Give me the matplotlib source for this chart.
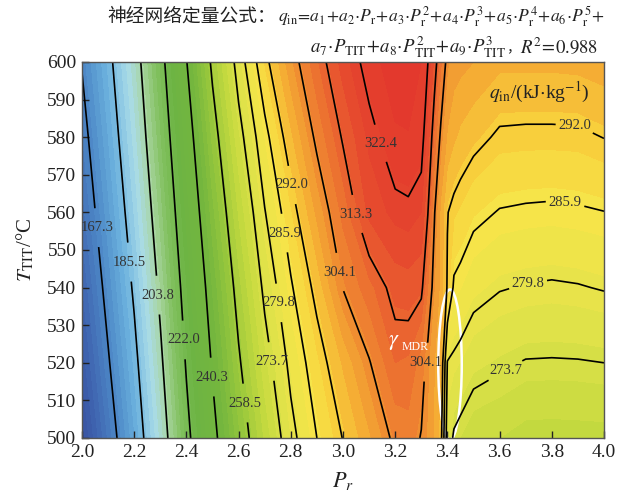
import numpy as np
import matplotlib
matplotlib.use('Agg')
import matplotlib.pyplot as plt
from matplotlib.colors import LinearSegmentedColormap
from matplotlib.patches import Ellipse

# ---------------- data ----------------
P_r = [2.0, 2.1, 2.2, 2.3, 2.4, 2.5, 2.6, 2.7, 2.8, 2.9, 3.0, 3.1, 3.2, 3.25,
       3.3, 3.325, 3.35, 3.375, 3.4, 3.425, 3.45, 3.5, 3.6, 3.7, 3.8, 3.9, 4.0]
T_TIT = [500, 520, 540, 560, 580, 600]

q_T500 = [144.5, 161.5, 178.5, 197.6, 219.0, 237.3, 253.0, 266.5, 277.9, 285.9, 292.2, 298.4, 305.5, 306.5,
          303.8, 301.5, 298.5, 294.0, 276.5, 273.0, 271.9, 269.8, 269.0, 267.6, 267.5, 267.6, 267.7]
q_T520 = [149.9, 166.3, 182.7, 201.8, 222.9, 241.3, 257.4, 270.9, 281.4, 289.2, 296.4, 303.7, 311.0, 310.5,
          306.5, 302.5, 299.0, 297.0, 279.5, 278.8, 277.9, 275.8, 274.5, 273.4, 273.3, 273.4, 273.7]
q_T540 = [154.6, 170.7, 187.0, 205.9, 226.6, 245.2, 261.6, 275.2, 285.2, 293.8, 304.3, 310.0, 315.0, 315.5,
          314.5, 308.0, 302.0, 298.0, 291.5, 285.0, 284.1, 281.8, 280.1, 279.5, 279.2, 279.5, 280.1]
q_T560 = [159.4, 174.9, 191.2, 210.1, 230.8, 249.8, 266.3, 279.5, 289.5, 299.7, 309.0, 317.8, 321.0, 321.5,
          320.0, 313.5, 304.5, 298.0, 292.2, 290.5, 289.5, 287.3, 285.6, 285.2, 285.0, 285.3, 285.8]
q_T580 = [163.6, 178.9, 195.2, 214.3, 235.1, 254.8, 271.3, 284.0, 295.2, 305.4, 313.9, 320.7, 325.5, 325.8,
          324.5, 318.5, 310.0, 303.0, 298.5, 296.5, 295.2, 293.6, 291.2, 291.0, 291.0, 291.1, 292.1]
q_T600 = [167.9, 182.7, 198.9, 218.3, 239.9, 260.2, 276.5, 290.2, 301.2, 310.5, 318.4, 324.5, 328.0, 328.0,
          326.0, 322.5, 316.0, 308.5, 302.5, 300.5, 300.0, 299.0, 296.8, 296.8, 296.8, 297.0, 297.8]

line_levels = [167.3, 185.5, 203.8, 222.0, 240.3, 258.5, 273.7, 279.8, 285.9,
               292.0, 304.1, 313.3, 322.4]

x_ticks = [2.0, 2.2, 2.4, 2.6, 2.8, 3.0, 3.2, 3.4, 3.6, 3.8, 4.0]
y_ticks = [500, 510, 520, 530, 540, 550, 560, 570, 580, 590, 600]

# label anchor points (P_r, T_TIT) for the contour labels
label_points = [(2.050, 555.9), (2.184, 546.8), (2.291, 538.0), (2.395, 526.1),
                (2.498, 516.2), (2.625, 509.3), (2.710, 520.2), (2.750, 535.9),
                (2.775, 554.5), (2.805, 567.3), (2.985, 544.1), (3.054, 559.6),
                (3.149, 578.5), (3.314, 520.2), (3.889, 583.0), (3.851, 562.5),
                (3.709, 540.7), (3.621, 518.1)]

# ---------------- style ----------------
plt.rcParams['font.family'] = ['Liberation Serif', 'Noto Sans CJK SC', 'DejaVu Sans']
plt.rcParams['mathtext.fontset'] = 'stix'
TXT = '#222222'

vmin, vmax = 140.0, 332.0
anchors = [(140, '#34489a'), (155, '#3f65b0'), (170, '#4f8cc9'), (182, '#6cb2de'),
           (195, '#a9dbe8'), (205, '#a8d5a0'), (215, '#82c160'), (228, '#6db443'),
           (245, '#74b63e'), (258, '#9cc93c'), (268, '#c3d93f'), (278, '#e3e34a'),
           (286, '#f6e449'), (292, '#f8d03c'), (298, '#f5ae34'), (305, '#ef8a31'),
           (313, '#ea6530'), (320, '#e5472e'), (332, '#e2332c')]
cmap = LinearSegmentedColormap.from_list(
    'qin', [((v - vmin) / (vmax - vmin), c) for v, c in anchors])

fig = plt.figure(figsize=(6.18, 4.95), dpi=100)
ax = fig.add_axes([82 / 618, 1 - 438 / 495, 522 / 618, 376 / 495])

Z = np.array([q_T500, q_T520, q_T540, q_T560, q_T580, q_T600])
fill_levels = np.linspace(vmin, vmax, 65)
ax.contourf(P_r, T_TIT, Z, levels=fill_levels, cmap=cmap, vmin=vmin, vmax=vmax,
            antialiased=False)
cs = ax.contour(P_r, T_TIT, Z, levels=line_levels, colors='k', linewidths=1.2)
labels = ax.clabel(cs, fmt='%.1f', manual=label_points, inline=True, inline_spacing=3,
                   fontsize=10.5, colors='#333333')
for t in labels:
    t.set_rotation(0)

ax.add_patch(Ellipse((3.41, 519.5), width=0.09, height=40, fill=False,
                     edgecolor='white', linewidth=1.8, clip_on=True))
ax.text(3.195, 525.5, r'$\gamma$', color='white', fontsize=16,
        ha='center', va='center')
ax.text(3.225, 524.3, 'MDR', color='white', fontsize=8.5,
        ha='left', va='center')
ax.text(3.751, 591.8, r'$q_{\rm in}$/(kJ$\cdot$kg$^{-1}$)', color=TXT,
        fontsize=14, ha='center', va='center')

ax.set_xlim(2.0, 4.0)
ax.set_ylim(500, 600)
ax.set_xticks(x_ticks)
ax.set_xticklabels([f'{v:.1f}' for v in x_ticks])
ax.set_yticks(y_ticks)
ax.set_yticklabels([str(v) for v in y_ticks])
ax.tick_params(direction='in', length=5, width=1, labelsize=14, colors=TXT,
               top=False, right=False, pad=4)
for s in ax.spines.values():
    s.set_color('#555555')
    s.set_linewidth(1.0)

ax.set_xlabel(r'$P_r$', fontsize=16, color=TXT)
ax.xaxis.set_label_coords(0.5, -0.085)
ax.set_ylabel(r'$T_{\rm TIT}$/°C', fontsize=15, color=TXT)
ax.yaxis.set_label_coords(-0.088, 0.5)

# ---------------- title (two lines, right aligned) ----------------
formula1 = (r'$q_{\rm in}\!=\!a_1\!+\!a_2\!\cdot\! P_{\rm r}\!+\!a_3\!\cdot\! P_{\rm r}^2'
            r'\!+\!a_4\!\cdot\! P_{\rm r}^3\!+\!a_5\!\cdot\! P_{\rm r}^4\!+\!a_6\!\cdot\! P_{\rm r}^5\!+$')
formula2 = r'$a_7\!\cdot\! P_{\rm TIT}\!+\!a_8\!\cdot\! P_{\rm TIT}^2\!+\!a_9\!\cdot\! P_{\rm TIT}^3$'
r2_text = r'$R^2\!=\!0.988$'

W, H = 618.0, 495.0
y1 = 1 - 17 / H
y2 = 1 - 47 / H
renderer = fig.canvas.get_renderer()

t_f1 = fig.text(605 / W, y1, formula1, ha='right', va='center', fontsize=12.6, color=TXT)
bb = t_f1.get_window_extent(renderer)
fig.text(bb.x0 / W - 0.003, y1 + 0.002, '神经网络定量公式：', ha='right', va='center',
         fontsize=13.5, color=TXT, family=['Noto Sans CJK SC'])

t_r2 = fig.text(598 / W, y2, r2_text, ha='right', va='center', fontsize=13.5, color=TXT)
bb = t_r2.get_window_extent(renderer)
t_c = fig.text(bb.x0 / W, y2, '，', ha='right', va='center', fontsize=10,
               color=TXT, family=['Noto Sans CJK SC'])
bb = t_c.get_window_extent(renderer)
fig.text(bb.x0 / W, y2, formula2, ha='right', va='center', fontsize=13.5, color=TXT)

fig.savefig('out.png', dpi=100)
